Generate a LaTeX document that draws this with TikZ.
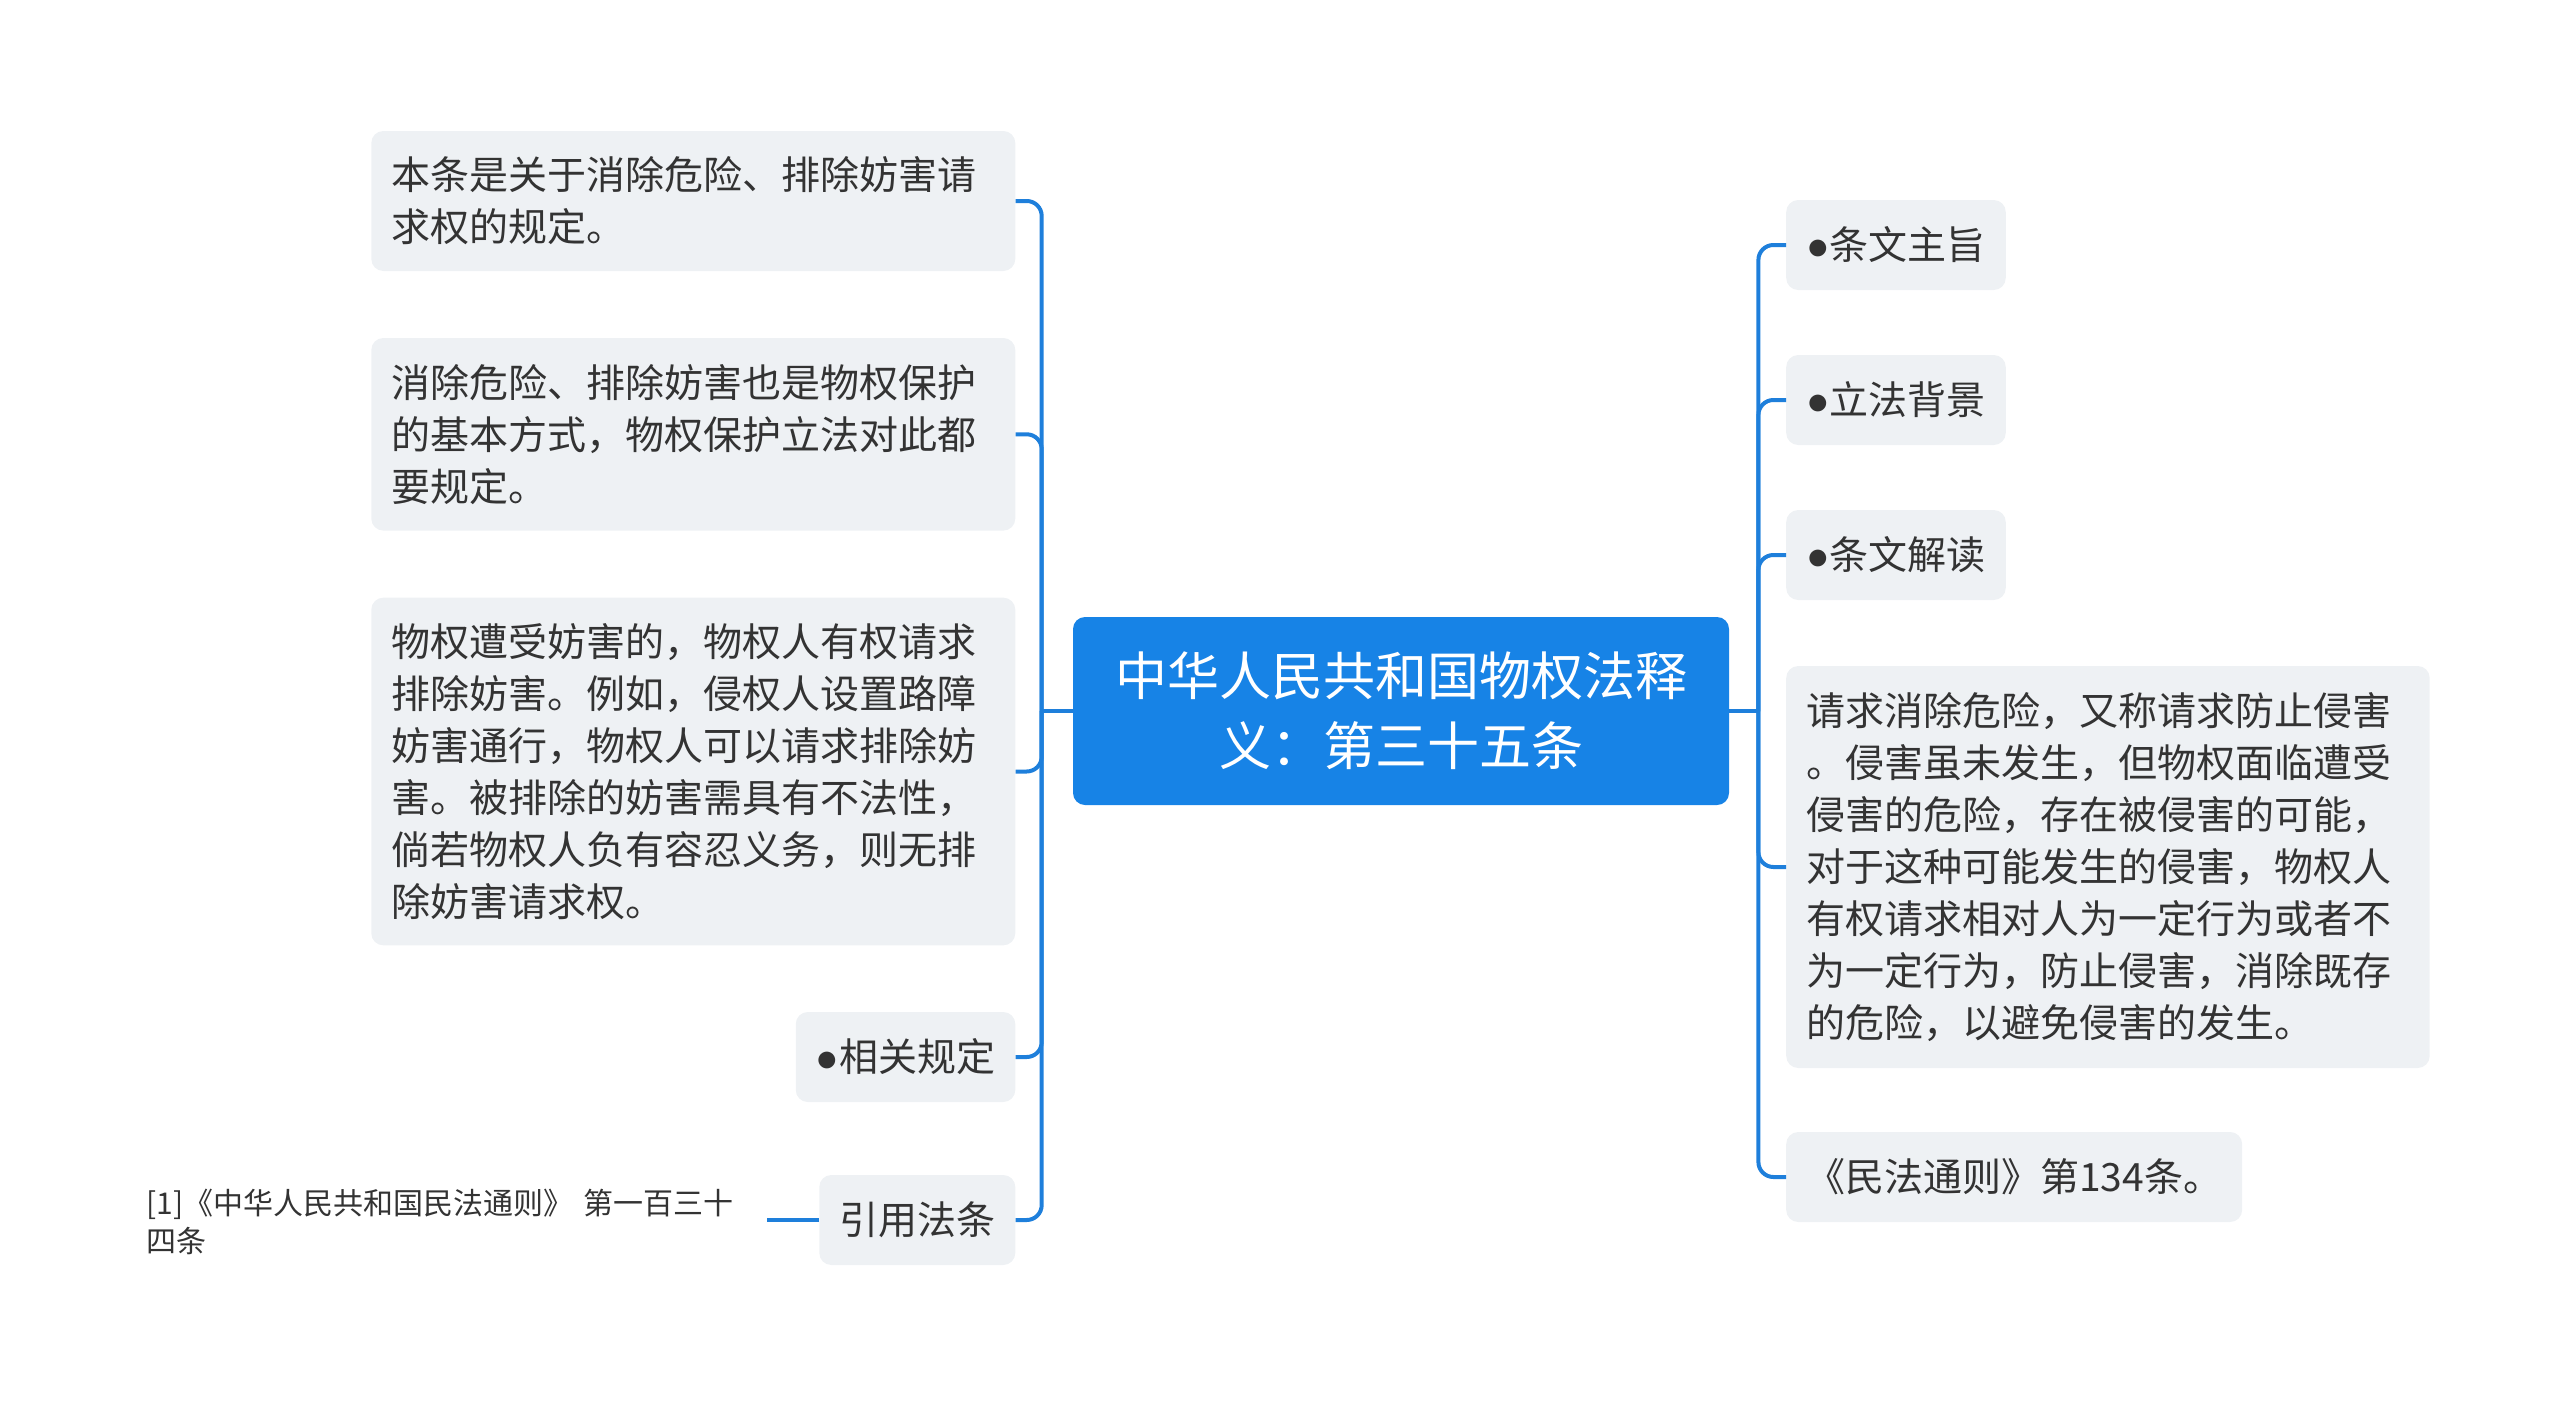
\documentclass[tikz,border=0pt]{standalone}
\usepackage{fontspec}
\setmainfont{Noto Sans CJK SC}
\newfontfamily\bulfont{Liberation Sans}
\definecolor{boxfill}{HTML}{EEF1F4}
\definecolor{rootblue}{HTML}{1783E6}
\definecolor{connc}{HTML}{1E7FDB}
\definecolor{txt}{HTML}{333333}
\begin{document}
\begin{tikzpicture}[x=1pt,y=-1pt,
  box/.style={fill=boxfill, rounded corners=12, inner xsep=20, inner ysep=0, text=txt,
    font=\fontsize{39}{52}\selectfont, align=left, minimum height=90},
  rootbox/.style={fill=rootblue, rounded corners=12, text=white, inner sep=0,
    font=\fontsize{52}{70}\selectfont, align=center},
  leaf/.style={text=txt, inner sep=0, align=left, font=\fontsize{30}{37.5}\selectfont},
  conn/.style={draw=connc, line width=4, rounded corners=15}]
\useasboundingbox (0,0) rectangle (2560,1405);

% root
\node[rootbox, minimum width=656, minimum height=188] (root) at (1401,711)
  {中华人民共和国物权法释\\义：第三十五条};

% left side
\node[box, anchor=east, text width=604, minimum height=140] (A1) at (1015.5,201)
  {本条是关于消除危险、排除妨害请\\求权的规定。};
\node[box, anchor=east, text width=604, minimum height=192.6] (A2) at (1015.5,434.3)
  {消除危险、排除妨害也是物权保护\\的基本方式，物权保护立法对此都\\要规定。};
\node[box, anchor=east, text width=604, minimum height=347.7] (A3) at (1015.5,771.5)
  {物权遭受妨害的，物权人有权请求\\排除妨害。例如，侵权人设置路障\\妨害通行，物权人可以请求排除妨\\害。被排除的妨害需具有不法性，\\倘若物权人负有容忍义务，则无排\\除妨害请求权。};
\node[box, anchor=east] (A4) at (1015.5,1057) {{\bulfont ●}相关规定};
\node[box, anchor=east] (A5) at (1015.5,1220) {引用法条};
\node[leaf, anchor=east, text width=620] (L) at (767,1222)
  {[1]《中华人民共和国民法通则》 第一百三十\\四条};

% right side
\node[box, anchor=west] (B1) at (1786,245) {{\bulfont ●}条文主旨};
\node[box, anchor=west] (B2) at (1786,400) {{\bulfont ●}立法背景};
\node[box, anchor=west] (B3) at (1786,555) {{\bulfont ●}条文解读};
\node[box, anchor=west, text width=603.5, minimum height=402] (B4) at (1786,867)
  {请求消除危险，又称请求防止侵害\\。侵害虽未发生，但物权面临遭受\\侵害的危险，存在被侵害的可能，\\对于这种可能发生的侵害，物权人\\有权请求相对人为一定行为或者不\\为一定行为，防止侵害，消除既存\\的危险，以避免侵害的发生。};
\node[box, anchor=west] (B5) at (1786,1177) {《民法通则》第134条。};

% trunk points
\coordinate (TL) at (1041.7,711);
\coordinate (TR) at (1758.4,711);

% connectors
\draw[conn] (root.west) -- (TL);
\foreach \n in {A1,A2,A3,A4,A5} \draw[conn] (TL) |- (\n.east);
\draw[conn] (root.east) -- (TR);
\foreach \n in {B1,B2,B3,B4,B5} \draw[conn] (TR) |- (\n.west);
\draw[conn] (A5.west) -- (L.east |- A5.west);
\end{tikzpicture}
\end{document}
